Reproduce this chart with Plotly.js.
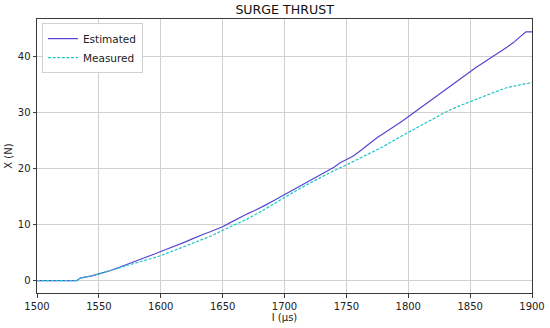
<!DOCTYPE html>
<html><head><meta charset="utf-8">
<script src="https://cdn.plot.ly/plotly-3.0.1.min.js"></script>
<style>html,body{margin:0;padding:0;background:#fff}#chart{width:550px;height:328px}</style>
</head><body><div id="chart"></div>
<script>
var estT = [1500,1505,1510,1515,1520,1525,1530,1532,1535,1540,1545,1550,1555,1560,1565,1570,1575,1580,1585,1590,1595,1600,1605,1610,1615,1620,1625,1630,1635,1640,1645,1650,1655,1660,1665,1670,1675,1680,1685,1690,1695,1700,1705,1710,1715,1720,1725,1730,1735,1740,1745,1750,1755,1760,1765,1770,1775,1780,1785,1790,1795,1800,1805,1810,1815,1820,1825,1830,1835,1840,1845,1850,1855,1860,1865,1870,1875,1880,1885,1890,1893,1895,1900];
var estX = [0,0,0,0,0,0,0,0,0.45,0.65,0.9,1.2,1.5,1.85,2.25,2.65,3.05,3.45,3.9,4.35,4.75,5.2,5.6,6.1,6.4,6.9,7.4,7.9,8.3,8.7,9.15,9.6,10.2,10.8,11.4,11.9,12.4,12.9,13.5,14.1,14.7,15.3,15.9,16.5,17.1,17.7,18.3,19.0,19.6,20.2,21.0,21.6,22.1,22.9,23.8,24.7,25.5,26.2,26.9,27.7,28.4,29.2,30.0,30.8,31.6,32.4,33.2,34.0,34.8,35.6,36.5,37.3,38.0,38.7,39.4,40.1,40.8,41.6,42.4,43.3,44.0,44.3,44.3];
var measT = [1500,1510,1520,1530,1532,1535,1540,1545,1550,1555,1560,1565,1570,1575,1580,1585,1590,1595,1600,1610,1620,1630,1640,1650,1660,1670,1680,1690,1700,1710,1720,1730,1740,1750,1760,1770,1780,1790,1800,1810,1820,1830,1840,1850,1860,1870,1880,1890,1900];
var measX = [0,0,0,0,0,0.45,0.65,0.9,1.2,1.5,1.8,2.15,2.5,2.85,3.2,3.5,3.8,4.1,4.45,5.3,6.2,7.1,7.9,8.95,10.0,11.0,12.2,13.5,14.9,16.1,17.3,18.5,19.6,20.6,21.7,22.8,23.9,25.2,26.4,27.6,28.8,30.0,31.0,31.9,32.8,33.6,34.4,34.9,35.3];
var xTicks = [1500,1550,1600,1650,1700,1750,1800,1850,1900];
var yTicks = [0,10,20,30,40];

var font = {family:'DejaVu Sans', size:10, color:'#222'};
Plotly.newPlot('chart', [
  {x:estT, y:estX, mode:'lines', name:'Estimated', line:{color:'#5546d2', width:1.2}},
  {x:measT, y:measX, mode:'lines', name:'Measured', line:{color:'#22c4c8', width:1.2, dash:'3px,1.6px'}}
], {
  width:550, height:328,
  margin:{l:37, r:18, t:19, b:35},
  paper_bgcolor:'#fff', plot_bgcolor:'#fff',
  font: font,
  title:{text:'SURGE THRUST', font:{family:'DejaVu Sans', size:12.6, color:'#111'}, x:0.5175, xanchor:'center', y:0.985, yanchor:'top'},
  xaxis:{range:[1500,1900], tickvals:xTicks, ticktext:xTicks.map(String), showgrid:true, gridcolor:'#d0d0d0', gridwidth:1,
    showline:true, linecolor:'#3a3a3a', linewidth:1, mirror:true, ticks:'outside', ticklen:3.5, tickcolor:'#3a3a3a', zeroline:false,
    title:{text:'I (μs)', font:{family:'DejaVu Sans', size:10, color:'#222'}, standoff:3}, tickfont:font},
  yaxis:{range:[-2.2,46.6], tickvals:yTicks, ticktext:yTicks.map(String), showgrid:true, gridcolor:'#d0d0d0', gridwidth:1,
    showline:true, linecolor:'#3a3a3a', linewidth:1, mirror:true, ticks:'outside', ticklen:3.5, tickcolor:'#3a3a3a', zeroline:false,
    title:{text:'X (N)', font:{family:'DejaVu Sans', size:10, color:'#222'}, standoff:3}, tickfont:font},
  showlegend:true,
  legend:{x:0.01, y:0.985, xanchor:'left', yanchor:'top', bgcolor:'rgba(255,255,255,0.9)', bordercolor:'#d0d0d0', borderwidth:1,
    font:{family:'DejaVu Sans', size:10.5, color:'#222'}, itemwidth:30, tracegroupgap:0}
}, {displayModeBar:false, staticPlot:true});
</script></body></html>
